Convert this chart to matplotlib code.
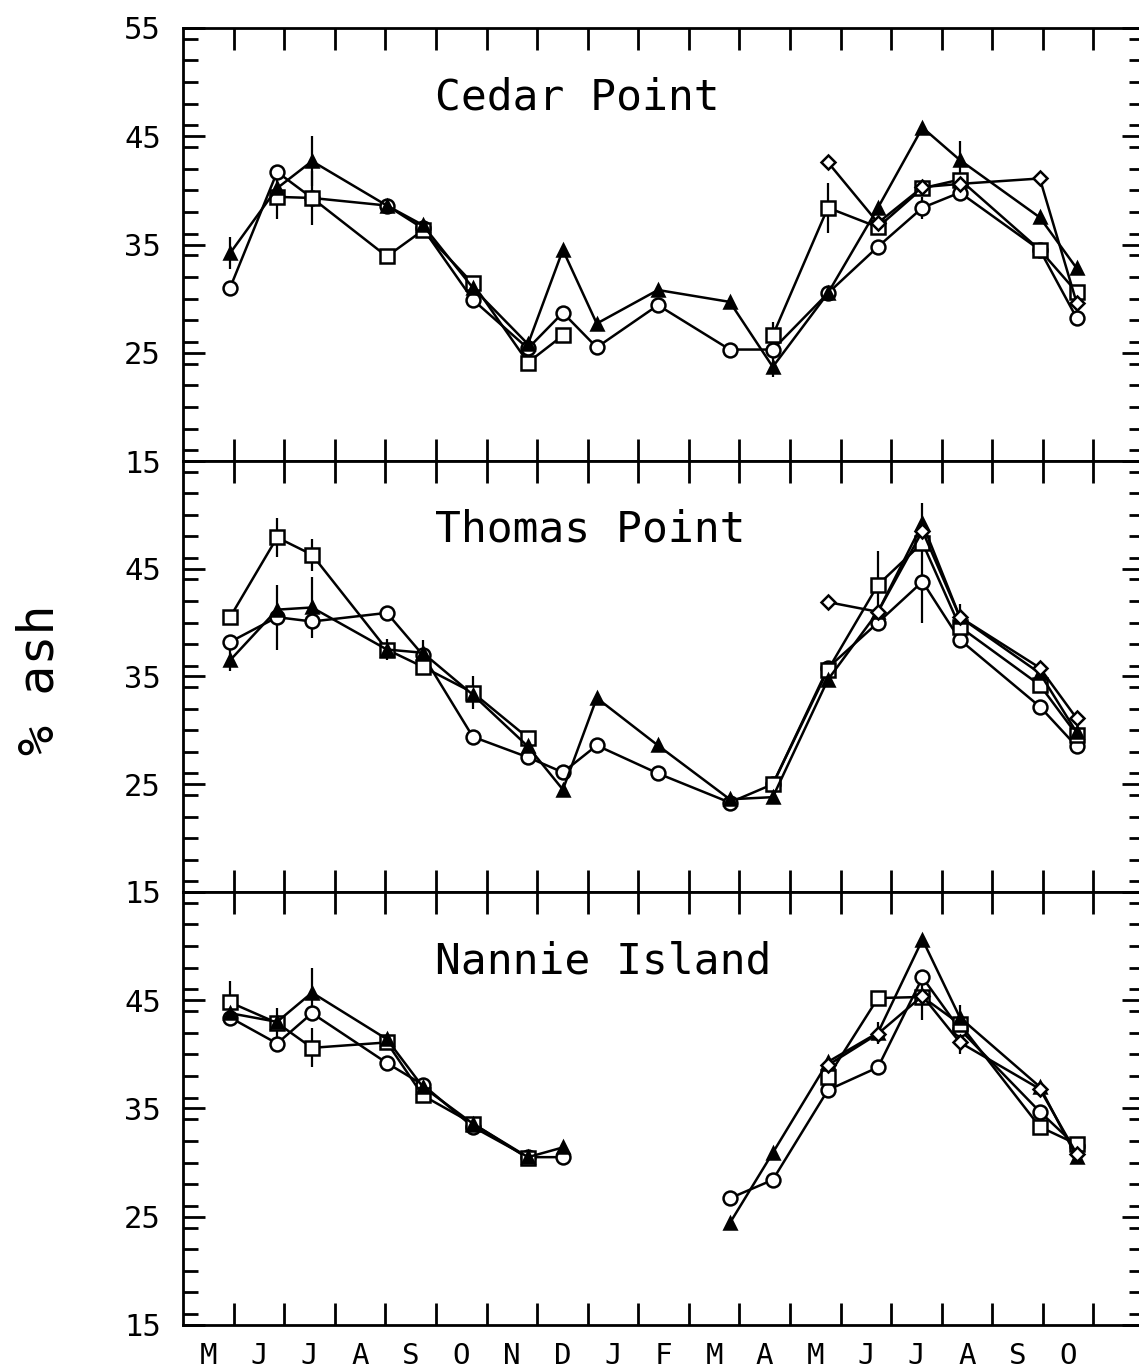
import numpy as np
import matplotlib
matplotlib.use('Agg')
import matplotlib.pyplot as plt
from matplotlib.ticker import FixedLocator, FixedFormatter, MultipleLocator

nan = np.nan

months = ['M', 'J', 'J', 'A', 'S', 'O', 'N', 'D', 'J', 'F', 'M', 'A', 'M', 'J', 'J', 'A', 'S', 'O']
# sampling dates, months counted from 1 May of the first year
dates = [0.93, 1.86, 2.55, 4.03, 4.74, 5.73, 6.82, 7.51, 8.18, 9.39,
         10.81, 11.66, 12.75, 13.74, 14.62, 15.36, 16.94, 17.67]

cedar_circle = [31.0, 41.7, 39.3, 38.6, 36.5, 29.9, 25.4, 28.7, 25.5, 29.4,
                25.3, 25.3, 30.5, 34.8, 38.4, 39.8, 34.5, 28.2]
cedar_square = [nan, 39.4, 39.3, 33.9, 36.3, 31.4, 24.1, 26.6, nan, nan,
                nan, 26.6, 38.4, 36.6, 40.2, 41.0, 34.5, 30.6]
cedar_triangle = [34.2, 40.2, 42.7, 38.6, 36.8, 31.0, 25.8, 34.5, 27.7, 30.8,
                  29.7, 23.7, 30.5, 38.4, 45.8, 42.8, 37.5, 32.8]
cedar_diamond = [nan, nan, nan, nan, nan, nan, nan, nan, nan, nan,
                 nan, nan, 42.6, 37.0, 40.3, 40.6, 41.1, 29.6]
cedar_err = [('triangle', 0, 1.5), ('square', 1, 2.0), ('triangle', 2, 2.3),
             ('square', 2, 2.5), ('circle', 11, 2.5), ('square', 12, 2.3),
             ('circle', 14, 1.0), ('triangle', 15, 1.8)]

thomas_circle = [38.2, 40.5, 40.1, 40.9, 37.0, 29.4, 27.5, 26.1, 28.6, 26.0,
                 23.3, 25.0, 35.8, 40.0, 43.8, 38.4, 32.2, 28.5]
thomas_square = [40.5, 47.9, 46.3, 37.5, 35.9, 33.5, 29.3, nan, nan, nan,
                 nan, 25.0, 35.6, 43.5, 47.4, 39.6, 34.2, 29.6]
thomas_triangle = [36.5, 41.2, 41.4, 37.5, 37.2, 33.3, 28.5, 24.5, 33.0, 28.6,
                   23.6, 23.8, 34.7, 41.0, 49.2, 40.5, 35.3, 29.8]
thomas_diamond = [nan, nan, nan, nan, nan, nan, nan, nan, nan, nan,
                  nan, nan, 41.9, 41.0, 48.5, 40.5, 35.8, 31.1]
thomas_err = [('triangle', 0, 1.0), ('square', 1, 1.8), ('circle', 1, 3.0),
              ('square', 2, 1.5), ('triangle', 2, 2.8), ('triangle', 3, 1.0),
              ('triangle', 4, 1.2), ('square', 5, 1.5), ('square', 13, 3.1),
              ('triangle', 14, 1.9), ('circle', 14, 3.8), ('triangle', 15, 1.2)]

nannie_circle = [43.4, 41.0, 43.8, 39.2, 37.2, 33.3, 30.5, 30.5, nan, nan,
                 26.7, 28.4, 36.7, 38.8, 47.1, 42.3, 34.7, 31.5]
nannie_square = [44.8, 42.9, 40.6, 41.1, 36.2, 33.6, 30.4, nan, nan, nan,
                 nan, nan, 37.9, 45.2, 45.3, 42.8, 33.3, 31.7]
nannie_triangle = [43.8, 43.0, 45.7, 41.4, 37.0, 33.6, 30.5, 31.4, nan, nan,
                   24.4, 30.9, 39.3, 42.0, 50.6, 43.4, 37.0, 30.5]
nannie_diamond = [nan, nan, nan, nan, nan, nan, nan, nan, nan, nan,
                  nan, nan, 39.0, 41.9, 45.4, 41.1, 36.8, 30.8]
nannie_err = [('square', 0, 2.0), ('square', 1, 1.4), ('triangle', 2, 2.3),
              ('square', 2, 1.8), ('triangle', 13, 1.0), ('square', 14, 2.1),
              ('circle', 15, 2.3)]

panels = [
    ('Cedar Point', {'circle': cedar_circle, 'square': cedar_square,
                     'triangle': cedar_triangle, 'diamond': cedar_diamond}, cedar_err),
    ('Thomas Point', {'circle': thomas_circle, 'square': thomas_square,
                      'triangle': thomas_triangle, 'diamond': thomas_diamond}, thomas_err),
    ('Nannie Island', {'circle': nannie_circle, 'square': nannie_square,
                       'triangle': nannie_triangle, 'diamond': nannie_diamond}, nannie_err),
]

styles = {
    'circle': dict(marker='o', ms=10, mfc='white'),
    'square': dict(marker='s', ms=9.5, mfc='white'),
    'triangle': dict(marker='^', ms=8, mfc='black'),
    'diamond': dict(marker='D', ms=7.5, mfc='white'),
}

plt.rcParams['font.family'] = ['DejaVu Sans Mono', 'DejaVu Sans']

fig = plt.figure(figsize=(11.39, 13.71), dpi=100)
rects = [[0.1607, 0.6637, 0.8437, 0.3159],
         [0.1607, 0.3494, 0.8437, 0.3144],
         [0.1607, 0.0336, 0.8437, 0.3158]]

for i, (name, series, errs) in enumerate(panels):
    ax = fig.add_axes(rects[i])
    for key, vals in series.items():
        ax.plot(dates, vals, color='black', lw=1.8, mec='black', mew=1.8,
                zorder=3, **styles[key])
    ex = [dates[j] for s, j, e in errs]
    ey = [series[s][j] for s, j, e in errs]
    ee = [e for s, j, e in errs]
    ax.errorbar(ex, ey, yerr=ee, fmt='none', ecolor='black', elinewidth=1.6,
                capsize=0, zorder=2)

    ax.set_xlim(0, 19)
    ax.set_ylim(15, 55)
    ax.xaxis.set_major_locator(FixedLocator(range(1, 19)))
    ax.xaxis.set_minor_locator(FixedLocator(np.arange(0.5, 18, 1)))
    ax.xaxis.set_major_formatter(FixedFormatter([''] * 18))
    ax.tick_params(axis='x', which='major', direction='in', length=16, width=2,
                   top=True, bottom=True)
    if i == 2:
        ax.xaxis.set_minor_formatter(FixedFormatter(months))
        ax.tick_params(axis='x', which='minor', length=0, pad=12, labelsize=21)
    else:
        ax.xaxis.set_minor_formatter(FixedFormatter([''] * 18))
        ax.tick_params(axis='x', which='minor', length=0)

    ax.set_yticks([15, 25, 35, 45, 55])
    if i == 0:
        ax.set_yticklabels(['15', '25', '35', '45', '55'])
    else:
        ax.set_yticklabels(['15', '25', '35', '45', ''])
    ax.yaxis.set_minor_locator(MultipleLocator(2))
    ax.tick_params(axis='y', which='major', direction='in', length=16, width=2,
                   left=True, right=True, pad=16, labelsize=22)
    ax.tick_params(axis='y', which='minor', direction='in', length=11, width=2,
                   left=True, right=True)
    for sp in ax.spines.values():
        sp.set_linewidth(2)

    ax.text(0.262, 0.84, name, transform=ax.transAxes, ha='left', va='center',
            fontsize=31)

fig.text(0.035, 0.504, '% ash', rotation=90, ha='center', va='center', fontsize=36)

fig.savefig('out.png', dpi=100)
